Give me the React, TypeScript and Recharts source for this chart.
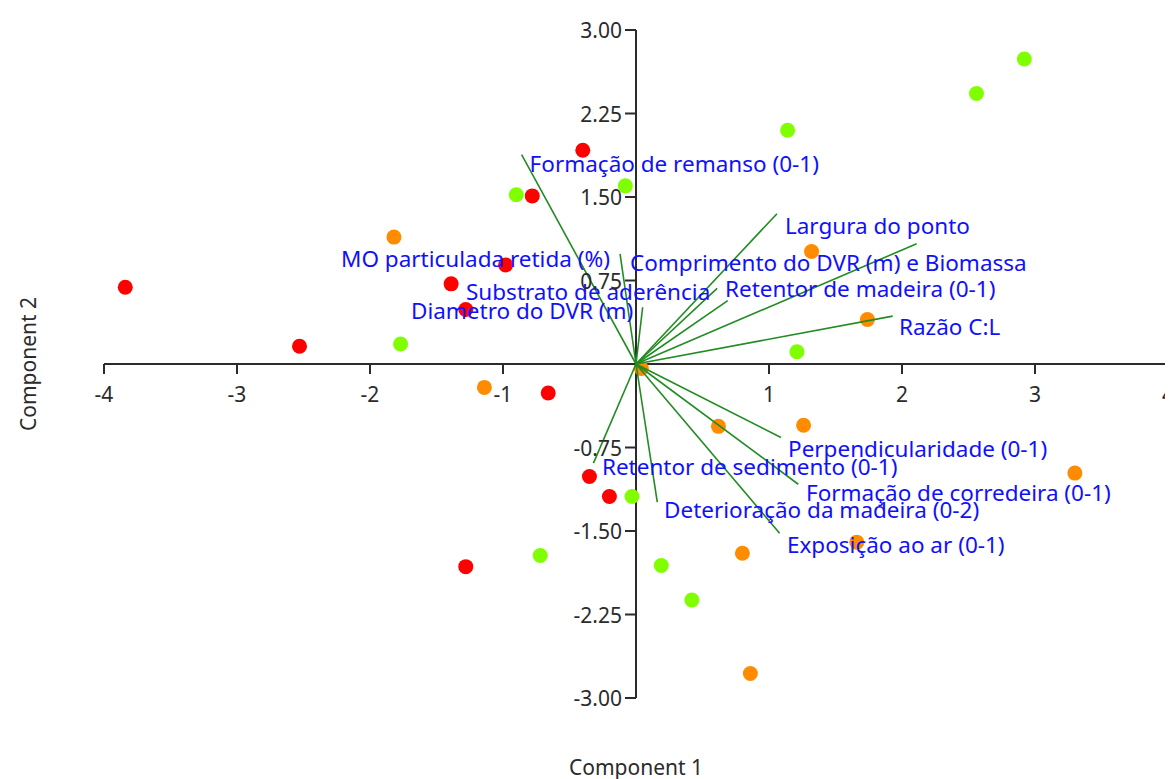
import {
  ScatterChart,
  Scatter,
  XAxis,
  YAxis,
  ReferenceLine,
} from "recharts";

// Sample scores, grouped by class
const redScores = [
  { x: -3.84, y: 0.69 },
  { x: -2.53, y: 0.16 },
  { x: -1.39, y: 0.72 },
  { x: -1.28, y: 0.49 },
  { x: -0.98, y: 0.89 },
  { x: -0.78, y: 1.51 },
  { x: -0.4, y: 1.92 },
  { x: -0.66, y: -0.26 },
  { x: -0.35, y: -1.01 },
  { x: -0.2, y: -1.19 },
  { x: -1.28, y: -1.82 },
];

const greenScores = [
  { x: 2.92, y: 2.74 },
  { x: 2.56, y: 2.43 },
  { x: 1.14, y: 2.1 },
  { x: -0.08, y: 1.6 },
  { x: -0.9, y: 1.52 },
  { x: -1.77, y: 0.18 },
  { x: 1.21, y: 0.11 },
  { x: -0.03, y: -1.19 },
  { x: -0.72, y: -1.72 },
  { x: 0.19, y: -1.81 },
  { x: 0.42, y: -2.12 },
];

const orangeScores = [
  { x: -1.82, y: 1.14 },
  { x: -1.14, y: -0.21 },
  { x: 1.32, y: 1.01 },
  { x: 1.74, y: 0.4 },
  { x: 0.04, y: -0.04 },
  { x: 0.62, y: -0.56 },
  { x: 1.26, y: -0.55 },
  { x: 3.3, y: -0.98 },
  { x: 0.8, y: -1.7 },
  { x: 1.66, y: -1.6 },
  { x: 0.86, y: -2.78 },
];

// Variable loadings (arrow tips)
const loadings = [
  { name: "Formação de remanso (0-1)", x: -0.86, y: 1.88 },
  { name: "Largura do ponto", x: 1.06, y: 1.35 },
  { name: "MO particulada retida (%)", x: -0.12, y: 0.99 },
  { name: "Comprimento do DVR (m) e Biomassa", x: 2.11, y: 1.08 },
  { name: "Substrato de aderência", x: 0.61, y: 0.68 },
  { name: "Retentor de madeira (0-1)", x: 0.69, y: 0.57 },
  { name: "Diametro do DVR (m)", x: 0.05, y: 0.51 },
  { name: "Razão C:L", x: 1.93, y: 0.43 },
  { name: "Perpendicularidade (0-1)", x: 1.09, y: -0.66 },
  { name: "Retentor de sedimento (0-1)", x: -0.32, y: -0.89 },
  { name: "Formação de corredeira (0-1)", x: 1.22, y: -1.08 },
  { name: "Deterioração da madeira (0-2)", x: 0.16, y: -1.24 },
  { name: "Exposição ao ar (0-1)", x: 1.08, y: -1.52 },
];

// Where each loading label starts, in data units (same order as loadings)
const labelAnchors = [
  { x: -0.8, y: 1.805 },
  { x: 1.12, y: 1.24 },
  { x: -2.218, y: 0.952 },
  { x: -0.045, y: 0.916 },
  { x: -1.278, y: 0.647 },
  { x: 0.669, y: 0.674 },
  { x: -1.692, y: 0.485 },
  { x: 1.977, y: 0.341 },
  { x: 1.143, y: -0.763 },
  { x: -0.256, y: -0.925 },
  { x: 1.278, y: -1.15 },
  { x: 0.211, y: -1.311 },
  { x: 1.135, y: -1.617 },
];

const xTicks = [-4, -3, -2, -1, 1, 2, 3, 4];
const yTicks = [3, 2.25, 1.5, 0.75, -0.75, -1.5, -2.25, -3];

const W = 1165;
const H = 771;
const MARGIN = { top: 22, right: 5, bottom: 80, left: 95 };
const AXIS_W = 1;
const AXIS_H = 1;
const PLOT_W = W - MARGIN.left - MARGIN.right - AXIS_W;
const PLOT_H = H - MARGIN.top - MARGIN.bottom - AXIS_H;
const ORIGIN_X = MARGIN.left + AXIS_W + PLOT_W / 2;
const ORIGIN_Y = MARGIN.top + PLOT_H / 2;

const FONT = "'Noto Sans', 'Open Sans', sans-serif";
const AXIS = "#2b2b2b";
const VECTOR = "#228b22";

const labelData = loadings.map((l, i) => ({
  x: labelAnchors[i].x,
  y: labelAnchors[i].y,
  name: l.name,
}));

// each loading is drawn as a two-point segment from the origin
const vectorData = loadings.map((l) => [
  { x: 0, y: 0 },
  { x: l.x, y: l.y },
]);

const XTick = (props: any) => {
  const { x, payload } = props;
  return (
    <g>
      <line x1={x} x2={x} y1={ORIGIN_Y} y2={ORIGIN_Y + 10} stroke={AXIS} strokeWidth={2} />
      <text
        x={x}
        y={ORIGIN_Y + 30}
        textAnchor="middle"
        dominantBaseline="central"
        fontFamily={FONT}
        fontSize={21}
        fill={AXIS}
      >
        {payload.value}
      </text>
    </g>
  );
};

const YTick = (props: any) => {
  const { y, payload } = props;
  return (
    <g>
      <line x1={ORIGIN_X - 11} x2={ORIGIN_X} y1={y} y2={y} stroke={AXIS} strokeWidth={2} />
      <text
        x={ORIGIN_X - 14}
        y={y}
        textAnchor="end"
        dominantBaseline="central"
        fontFamily={FONT}
        fontSize={21}
        fill={AXIS}
      >
        {Number(payload.value).toFixed(2)}
      </text>
    </g>
  );
};

const dot = (color: string) => (props: any) =>
  <circle cx={props.cx} cy={props.cy} r={7.5} fill={color} />;

const noDot = () => <g />;

const LoadingLabel = (props: any) => (
  <text
    x={props.cx}
    y={props.cy}
    dominantBaseline="central"
    fontFamily={FONT}
    fontSize={22.5}
    fill="#1010ff"
  >
    {props.payload.name}
  </text>
);

export default function App() {
  return (
    <div style={{ position: "relative", width: W, height: H }}>
      <ScatterChart width={W} height={H} margin={MARGIN}>
        <XAxis
          type="number"
          dataKey="x"
          domain={[-4, 4]}
          ticks={xTicks}
          height={AXIS_H}
          axisLine={false}
          tickLine={false}
          tick={XTick}
          interval={0}
          allowDataOverflow
        />
        <YAxis
          type="number"
          dataKey="y"
          domain={[-3, 3]}
          ticks={yTicks}
          width={AXIS_W}
          axisLine={false}
          tickLine={false}
          tick={YTick}
          interval={0}
          allowDataOverflow
        />
        <ReferenceLine y={0} stroke={AXIS} strokeWidth={2} />
        <ReferenceLine x={0} stroke={AXIS} strokeWidth={2} />
        <Scatter data={redScores} fill="#ff0000" shape={dot("#ff0000")} isAnimationActive={false} />
        <Scatter data={greenScores} fill="#80ff00" shape={dot("#80ff00")} isAnimationActive={false} />
        <Scatter data={orangeScores} fill="#ff8c00" shape={dot("#ff8c00")} isAnimationActive={false} />
        {vectorData.map((seg, i) => (
          <Scatter
            key={loadings[i].name}
            data={seg}
            line={{ stroke: VECTOR, strokeWidth: 1.6 }}
            shape={noDot}
            isAnimationActive={false}
          />
        ))}
        <Scatter data={labelData} shape={LoadingLabel} isAnimationActive={false} />
      </ScatterChart>
      <div
        style={{
          position: "absolute",
          left: ORIGIN_X - 100,
          width: 200,
          top: H - 24,
          textAlign: "center",
          fontFamily: FONT,
          fontSize: 21,
          color: AXIS,
          lineHeight: "24px",
        }}
      >
        Component 1
      </div>
      <div
        style={{
          position: "absolute",
          left: 20 - 80,
          top: ORIGIN_Y - 12,
          width: 160,
          textAlign: "center",
          transform: "rotate(-90deg)",
          fontFamily: FONT,
          fontSize: 21,
          color: AXIS,
          lineHeight: "24px",
        }}
      >
        Component 2
      </div>
    </div>
  );
}
